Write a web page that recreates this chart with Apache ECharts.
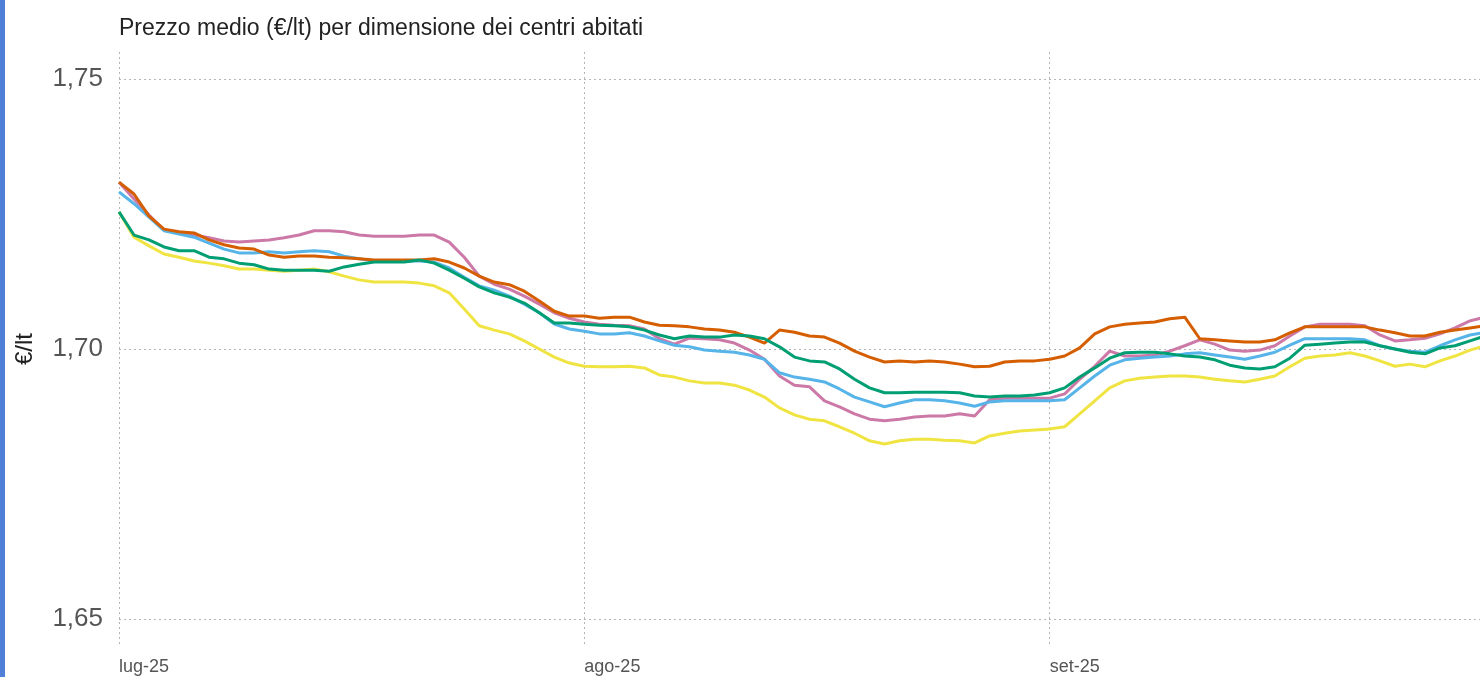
<!DOCTYPE html>
<html>
<head>
<meta charset="utf-8">
<script src="https://cdn.jsdelivr.net/npm/echarts@6/dist/echarts.min.js"></script>
<style>
  html, body { margin: 0; padding: 0; background: #ffffff; overflow: hidden; }
  #chart { width: 1480px; height: 677px; }
  #bar { position: absolute; left: 0; top: 0; width: 5px; height: 677px; background: #4f7fd6; }
</style>
</head>
<body>
<div id="chart"></div>
<div id="bar"></div>
<script>
const titleText = 'Prezzo medio (€/lt) per dimensione dei centri abitati';
const yAxisName = '€/lt';
const monthLabels = { 6: 'lug-25', 7: 'ago-25', 8: 'set-25' };
const yTicks = [1.65, 1.70, 1.75];

// daily dates 1 Jul 2025 .. 30 Sep 2025
const dates = [];
for (let i = 0; i < 92; i++) {
  const d = new Date(Date.UTC(2025, 6, 1) + i * 86400000);
  dates.push(d.toISOString().slice(0, 10));
}

const orange = [1.7309,1.7287,1.7246,1.7222,1.7217,1.7215,1.7202,1.7193,1.7187,1.7185,
  1.7174,1.7170,1.7172,1.7172,1.7170,1.7169,1.7167,1.7165,1.7165,1.7165,
  1.7165,1.7167,1.7161,1.7150,1.7135,1.7124,1.7119,1.7107,1.7089,1.7070,
  1.7061,1.7061,1.7057,1.7059,1.7059,1.7050,1.7044,1.7043,1.7041,1.7037,
  1.7035,1.7031,1.7022,1.7011,1.7035,1.7031,1.7024,1.7022,1.7011,1.6996,
  1.6985,1.6976,1.6978,1.6976,1.6978,1.6976,1.6972,1.6967,1.6968,1.6976,
  1.6978,1.6978,1.6981,1.6987,1.7002,1.7028,1.7041,1.7046,1.7048,1.7050,
  1.7056,1.7059,1.7019,1.7017,1.7015,1.7013,1.7013,1.7017,1.7030,1.7041,
  1.7041,1.7041,1.7041,1.7041,1.7035,1.7030,1.7024,1.7024,1.7031,1.7035,
  1.7039,1.7043];

const pink = [1.7309,1.7278,1.7248,1.7220,1.7215,1.7211,1.7206,1.7200,1.7198,1.7200,
  1.7202,1.7206,1.7211,1.7219,1.7219,1.7217,1.7211,1.7209,1.7209,1.7209,
  1.7211,1.7211,1.7198,1.7170,1.7135,1.7120,1.7111,1.7098,1.7083,1.7067,
  1.7057,1.7050,1.7046,1.7044,1.7043,1.7037,1.7019,1.7009,1.7020,1.7019,
  1.7017,1.7011,1.6998,1.6981,1.6950,1.6933,1.6930,1.6904,1.6893,1.6880,
  1.6870,1.6867,1.6870,1.6874,1.6876,1.6876,1.6880,1.6876,1.6906,1.6909,
  1.6909,1.6909,1.6909,1.6917,1.6944,1.6968,1.6996,1.6987,1.6987,1.6989,
  1.6996,1.7006,1.7017,1.7009,1.6998,1.6996,1.6998,1.7006,1.7024,1.7041,
  1.7046,1.7046,1.7046,1.7043,1.7026,1.7015,1.7017,1.7020,1.7028,1.7039,
  1.7052,1.7059];

const blue = [1.7291,1.7269,1.7244,1.7219,1.7213,1.7207,1.7196,1.7185,1.7178,1.7178,
  1.7180,1.7178,1.7180,1.7182,1.7180,1.7172,1.7167,1.7163,1.7163,1.7163,
  1.7163,1.7161,1.7150,1.7133,1.7117,1.7109,1.7098,1.7083,1.7067,1.7046,
  1.7037,1.7033,1.7028,1.7028,1.7030,1.7024,1.7015,1.7007,1.7004,1.6998,
  1.6996,1.6994,1.6989,1.6981,1.6956,1.6948,1.6944,1.6939,1.6926,1.6911,
  1.6902,1.6893,1.6900,1.6906,1.6906,1.6904,1.6900,1.6894,1.6902,1.6904,
  1.6904,1.6904,1.6904,1.6906,1.6928,1.6950,1.6970,1.6980,1.6983,1.6985,
  1.6987,1.6991,1.6993,1.6989,1.6985,1.6981,1.6987,1.6994,1.7007,1.7019,
  1.7019,1.7019,1.7019,1.7017,1.7006,1.7000,1.6996,1.6994,1.7006,1.7017,
  1.7026,1.7031];

const green = [1.7254,1.7211,1.7202,1.7189,1.7182,1.7182,1.7170,1.7167,1.7159,1.7156,
  1.7148,1.7146,1.7146,1.7146,1.7144,1.7152,1.7157,1.7161,1.7161,1.7161,
  1.7165,1.7159,1.7146,1.7131,1.7115,1.7104,1.7096,1.7085,1.7067,1.7048,
  1.7048,1.7046,1.7044,1.7043,1.7041,1.7035,1.7026,1.7019,1.7024,1.7022,
  1.7022,1.7026,1.7024,1.7019,1.7004,1.6985,1.6978,1.6976,1.6963,1.6944,
  1.6928,1.6919,1.6919,1.6920,1.6920,1.6920,1.6919,1.6913,1.6911,1.6913,
  1.6913,1.6915,1.6919,1.6928,1.6948,1.6965,1.6983,1.6993,1.6994,1.6994,
  1.6991,1.6987,1.6985,1.6980,1.6970,1.6965,1.6963,1.6967,1.6983,1.7007,
  1.7009,1.7011,1.7013,1.7013,1.7006,1.7000,1.6994,1.6991,1.7002,1.7006,
  1.7015,1.7024];

const yellow = [1.7254,1.7207,1.7191,1.7176,1.7170,1.7163,1.7159,1.7154,1.7148,1.7148,
  1.7146,1.7144,1.7146,1.7148,1.7143,1.7135,1.7128,1.7124,1.7124,1.7124,
  1.7122,1.7117,1.7104,1.7074,1.7043,1.7035,1.7028,1.7015,1.7000,1.6985,
  1.6974,1.6968,1.6967,1.6967,1.6968,1.6965,1.6952,1.6948,1.6941,1.6937,
  1.6937,1.6933,1.6924,1.6911,1.6891,1.6878,1.6870,1.6867,1.6856,1.6844,
  1.6830,1.6824,1.6830,1.6833,1.6833,1.6831,1.6830,1.6826,1.6839,1.6844,
  1.6848,1.6850,1.6852,1.6856,1.6880,1.6904,1.6928,1.6941,1.6946,1.6948,
  1.6950,1.6950,1.6948,1.6944,1.6941,1.6939,1.6944,1.6950,1.6967,1.6983,
  1.6987,1.6989,1.6993,1.6987,1.6978,1.6968,1.6972,1.6967,1.6978,1.6987,
  1.6998,1.7006];

const isMonthStart = (idx, val) => String(val).slice(8, 10) === '01';
const gridDash = { color: '#b5b5b5', width: 1, type: [2, 3] };
const font = 'Liberation Sans, Arial, sans-serif';

const chart = echarts.init(document.getElementById('chart'), null, { renderer: 'canvas' });

function lineSeries(name, data, color) {
  return {
    name, type: 'line', data, xAxisIndex: 0, yAxisIndex: 0,
    showSymbol: false, symbol: 'none', smooth: false,
    lineStyle: { color, width: 3 }, itemStyle: { color },
    emphasis: { disabled: true }, z: 3
  };
}

chart.setOption({
  animation: false,
  backgroundColor: '#ffffff',
  title: {
    text: titleText, left: 114, top: 12,
    textStyle: { fontFamily: font, fontSize: 23, fontWeight: 'normal', color: '#222' }
  },
  grid: [
    { left: 119, width: 1366, top: 52, bottom: 31, outerBoundsMode: 'none', containLabel: false },
    { left: 119, width: 1366, top: 79, bottom: 58, outerBoundsMode: 'none', containLabel: false }
  ],
  xAxis: [
    {
      gridIndex: 0, type: 'category', data: dates, boundaryGap: false,
      axisLine: { show: false }, axisTick: { show: false },
      axisLabel: {
        interval: isMonthStart, align: 'left', margin: 12,
        fontFamily: font, fontSize: 18, color: '#555',
        formatter: v => monthLabels[Number(v.slice(5, 7)) - 1]
      },
      splitLine: { show: true, interval: isMonthStart, lineStyle: gridDash }
    },
    {
      gridIndex: 1, type: 'category', data: dates, boundaryGap: false, show: false
    }
  ],
  yAxis: [
    { gridIndex: 0, type: 'value', min: 1.645, max: 1.755, show: false, splitLine: { show: false } },
    {
      gridIndex: 1, type: 'value', min: yTicks[0], max: yTicks[yTicks.length - 1], interval: 0.05,
      axisLine: { show: false }, axisTick: { show: false },
      axisLabel: {
        margin: 16, fontFamily: font, fontSize: 26, color: '#555',
        formatter: v => v.toFixed(2).replace('.', ',')
      },
      splitLine: { show: true, lineStyle: gridDash },
      name: yAxisName, nameLocation: 'middle', nameGap: 82, nameRotate: 90,
      nameTextStyle: { fontFamily: font, fontSize: 24, color: '#222' }
    }
  ],
  series: [
    lineSeries('yellow', yellow, '#F0E442'),
    lineSeries('pink', pink, '#CC79A7'),
    lineSeries('blue', blue, '#56B4E9'),
    lineSeries('orange', orange, '#D55E00'),
    lineSeries('green', green, '#009E73')
  ]
});
</script>
</body>
</html>
